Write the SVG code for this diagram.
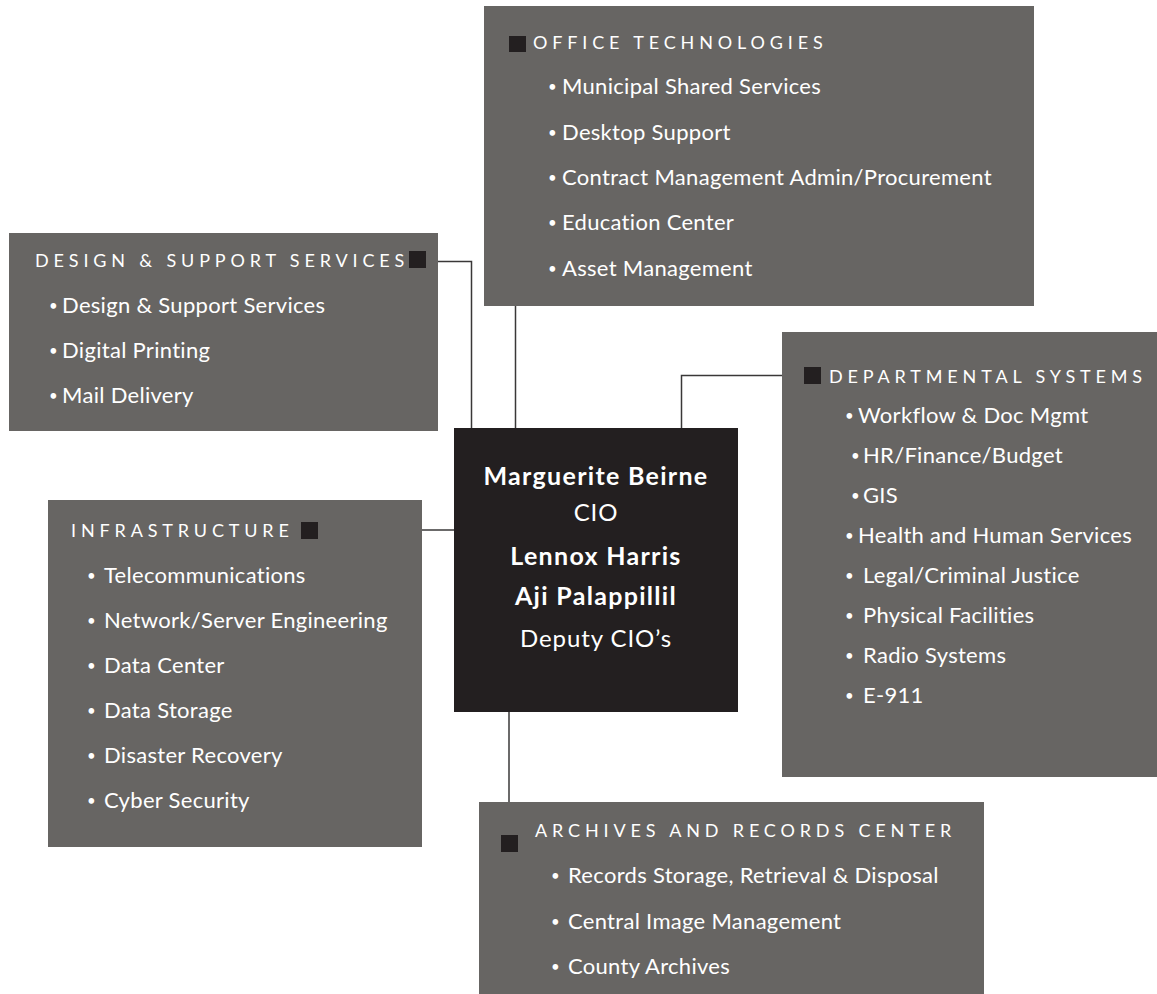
<svg xmlns="http://www.w3.org/2000/svg" width="1157" height="994" viewBox="0 0 1157 994">
<style>
.box{fill:#676563}
.cio{fill:#231f20}
.mk{fill:#231f20}
.hd{font-family:Lato,"Noto Sans",sans-serif;font-size:18px;fill:#ffffff;letter-spacing:4.85px}
.it{font-family:Lato,"Noto Sans",sans-serif;font-size:22px;fill:#ffffff;letter-spacing:0.3px}
.b{font-size:15px}
.nm{font-family:Lato,"Noto Sans",sans-serif;font-size:25px;fill:#ffffff;font-weight:bold;letter-spacing:1.3px;text-anchor:middle}
.tt{font-family:Lato,"Noto Sans",sans-serif;font-size:24px;fill:#ffffff;letter-spacing:0.9px;text-anchor:middle}
.ln{fill:none;stroke:#3a3838;stroke-width:1.5}
</style>
<rect width="1157" height="994" fill="#ffffff"/>
<g id="connectors">
<path class="ln" d="M426,261.5 H471.5 V428"/>
<path class="ln" d="M515.5,52 V428"/>
<path class="ln" d="M681.5,428 V375.5 H804"/>
<path class="ln" d="M318,530 H454"/>
<path class="ln" d="M509,712 V835"/>
</g>
<g id="office-technologies">
<rect class="box" x="484" y="6" width="550" height="300"/>
<rect class="mk" x="509" y="36" width="17" height="16"/>
<text class="hd" x="533" y="49">OFFICE TECHNOLOGIES</text>
<text class="it" y="94"><tspan class="b" x="548" dy="-2">•</tspan><tspan x="562" dy="2">Municipal Shared Services</tspan></text>
<text class="it" y="140"><tspan class="b" x="548" dy="-2">•</tspan><tspan x="562" dy="2">Desktop Support</tspan></text>
<text class="it" y="185"><tspan class="b" x="548" dy="-2">•</tspan><tspan x="562" dy="2">Contract Management Admin/Procurement</tspan></text>
<text class="it" y="230"><tspan class="b" x="548" dy="-2">•</tspan><tspan x="562" dy="2">Education Center</tspan></text>
<text class="it" y="276"><tspan class="b" x="548" dy="-2">•</tspan><tspan x="562" dy="2">Asset Management</tspan></text>
</g>
<g id="design-support">
<rect class="box" x="9" y="233" width="429" height="198"/>
<rect class="mk" x="409" y="251" width="17" height="17"/>
<text class="hd" x="35" y="267">DESIGN &amp; SUPPORT SERVICES</text>
<text class="it" y="313"><tspan class="b" x="49" dy="-2">•</tspan><tspan x="62" dy="2">Design &amp; Support Services</tspan></text>
<text class="it" y="358"><tspan class="b" x="49" dy="-2">•</tspan><tspan x="62" dy="2">Digital Printing</tspan></text>
<text class="it" y="403"><tspan class="b" x="49" dy="-2">•</tspan><tspan x="62" dy="2">Mail Delivery</tspan></text>
</g>
<g id="cio">
<rect class="cio" x="454" y="428" width="284" height="284"/>
<text class="nm" x="596" y="485">Marguerite Beirne</text>
<text class="tt" x="596" y="521">CIO</text>
<text class="nm" x="596" y="565">Lennox Harris</text>
<text class="nm" x="596" y="605">Aji Palappillil</text>
<text class="tt" x="596" y="647">Deputy CIO’s</text>
</g>
<g id="departmental-systems">
<rect class="box" x="782" y="332" width="375" height="445"/>
<rect class="mk" x="804" y="367" width="17" height="17"/>
<text class="hd" x="829" y="383">DEPARTMENTAL SYSTEMS</text>
<text class="it" y="423"><tspan class="b" x="845" dy="-2">•</tspan><tspan x="858" dy="2">Workflow &amp; Doc Mgmt</tspan></text>
<text class="it" y="463"><tspan class="b" x="851" dy="-2">•</tspan><tspan x="863" dy="2">HR/Finance/Budget</tspan></text>
<text class="it" y="503"><tspan class="b" x="851" dy="-2">•</tspan><tspan x="863" dy="2">GIS</tspan></text>
<text class="it" y="543"><tspan class="b" x="845" dy="-2">•</tspan><tspan x="858" dy="2">Health and Human Services</tspan></text>
<text class="it" y="583"><tspan class="b" x="845" dy="-2">•</tspan><tspan x="863" dy="2">Legal/Criminal Justice</tspan></text>
<text class="it" y="623"><tspan class="b" x="845" dy="-2">•</tspan><tspan x="863" dy="2">Physical Facilities</tspan></text>
<text class="it" y="663"><tspan class="b" x="845" dy="-2">•</tspan><tspan x="863" dy="2">Radio Systems</tspan></text>
<text class="it" y="703"><tspan class="b" x="845" dy="-2">•</tspan><tspan x="863" dy="2">E-911</tspan></text>
</g>
<g id="infrastructure">
<rect class="box" x="48" y="500" width="374" height="347"/>
<rect class="mk" x="301" y="522" width="17" height="17"/>
<text class="hd" x="71" y="537">INFRASTRUCTURE</text>
<text class="it" y="583"><tspan class="b" x="87" dy="-2">•</tspan><tspan x="104" dy="2">Telecommunications</tspan></text>
<text class="it" y="628"><tspan class="b" x="87" dy="-2">•</tspan><tspan x="104" dy="2">Network/Server Engineering</tspan></text>
<text class="it" y="673"><tspan class="b" x="87" dy="-2">•</tspan><tspan x="104" dy="2">Data Center</tspan></text>
<text class="it" y="718"><tspan class="b" x="87" dy="-2">•</tspan><tspan x="104" dy="2">Data Storage</tspan></text>
<text class="it" y="763"><tspan class="b" x="87" dy="-2">•</tspan><tspan x="104" dy="2">Disaster Recovery</tspan></text>
<text class="it" y="808"><tspan class="b" x="87" dy="-2">•</tspan><tspan x="104" dy="2">Cyber Security</tspan></text>
</g>
<g id="archives-records">
<rect class="box" x="479" y="802" width="505" height="192"/>
<rect class="mk" x="501" y="835" width="17" height="17"/>
<text class="hd" x="535" y="837">ARCHIVES AND RECORDS CENTER</text>
<text class="it" y="883"><tspan class="b" x="551" dy="-2">•</tspan><tspan x="568" dy="2">Records Storage, Retrieval &amp; Disposal</tspan></text>
<text class="it" y="929"><tspan class="b" x="551" dy="-2">•</tspan><tspan x="568" dy="2">Central Image Management</tspan></text>
<text class="it" y="974"><tspan class="b" x="551" dy="-2">•</tspan><tspan x="568" dy="2">County Archives</tspan></text>
</g>
</svg>
